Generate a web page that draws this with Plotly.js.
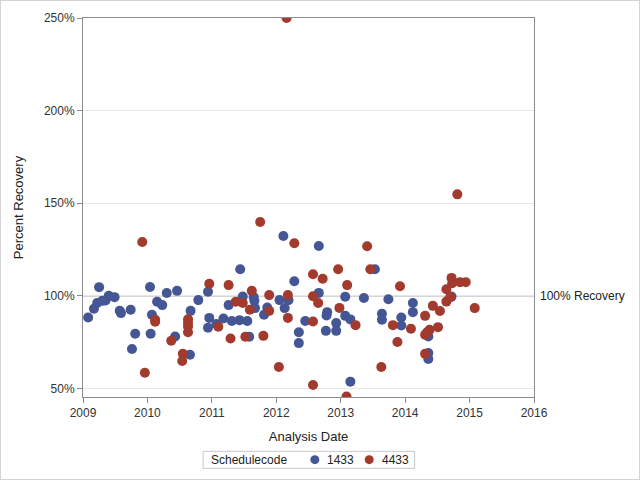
<!DOCTYPE html>
<html><head><meta charset="utf-8">
<script src="https://cdn.plot.ly/plotly-3.0.1.min.js"></script>
<style>body{margin:0;padding:0;background:#fff}#wrap{position:relative;width:640px;height:480px}#chart{width:640px;height:480px}#frame{position:absolute;left:0;top:0;width:638px;height:478px;border:1px solid #d4d4d4;pointer-events:none}</style>
</head><body><div id="wrap"><div id="chart"></div><div id="frame"></div></div>
<script>
// Schedulecode 1433 (blue)
const date1433 = [2009.08,2009.17,2009.22,2009.25,2009.30,2009.35,2009.40,2009.49,2009.57,2009.59,2009.74,2009.81,2009.76,2010.04,2010.07,2010.05,2010.15,2010.23,2010.30,2010.46,2010.43,2010.66,2010.67,2010.79,2010.94,2010.96,2010.94,2011.07,2011.18,2011.26,2011.44,2011.48,2011.31,2011.43,2011.55,2011.58,2011.65,2011.66,2011.67,2011.86,2011.81,2012.05,2012.19,2012.13,2012.11,2012.28,2012.45,2012.35,2012.35,2012.66,2012.66,2012.79,2012.78,2012.77,2012.93,2012.93,2013.07,2013.07,2013.15,2013.15,2013.53,2013.36,2013.74,2013.64,2013.64,2013.94,2013.94,2014.12,2014.12,2014.36,2014.36,2014.36,2014.72];
const pct1433 = [88.3,93.0,96.1,104.7,97.3,97.5,100.0,99.3,91.9,90.7,92.5,79.5,71.3,104.8,89.8,79.5,96.8,95.0,101.5,102.7,78.1,68.2,91.9,97.7,102.2,88.1,82.8,84.8,87.8,95.0,114.4,99.6,86.4,86.9,86.4,77.9,99.3,97.3,93.4,93.7,89.8,97.7,97.7,93.4,132.3,107.9,86.4,80.4,74.5,126.9,101.6,91.2,89.4,81.1,85.3,81.1,99.5,89.2,87.3,53.7,114.4,98.8,98.2,90.3,87.1,88.3,84.0,96.1,91.2,78.1,69.1,65.9,99.6];
// Schedulecode 4433 (red)
const date4433 = [2009.92,2009.96,2010.12,2010.12,2010.37,2010.55,2010.54,2010.63,2010.63,2010.63,2010.63,2010.96,2011.10,2011.26,2011.29,2011.37,2011.48,2011.62,2011.59,2011.52,2011.80,2011.89,2011.89,2011.75,2012.18,2012.18,2012.04,2012.28,2012.57,2012.57,2012.72,2012.65,2012.57,2012.57,2012.96,2012.98,2013.10,2013.09,2013.41,2013.46,2013.92,2013.23,2013.81,2013.88,2014.09,2014.31,2014.43,2014.54,2014.51,2014.38,2014.34,2014.31,2014.31,2014.64,2014.72,2014.73,2014.85,2014.94,2014.64,2014.70,2015.08,2013.63,2014.81,2012.16];
const pct4433 = [129.1,58.5,87.1,86.0,75.8,68.7,64.8,87.4,85.3,83.5,80.4,106.5,83.3,105.8,77.0,96.8,96.1,102.7,92.5,77.9,78.4,100.4,91.9,139.9,100.4,88.1,61.6,128.4,111.7,99.8,109.2,96.1,86.2,51.9,114.4,93.5,105.8,45.7,126.8,114.4,105.2,84.2,84.2,75.1,82.2,89.2,94.6,91.8,83.1,81.7,80.4,79.0,68.7,103.6,109.7,106.8,107.4,107.4,96.9,99.3,93.4,61.6,154.8,250.0];
const seriesNames = ['1433','4433'];
const seriesColors = ['#445694','#A23A2E'];
const legendTitle = 'Schedulecode';
const yearTicks = [2009,2010,2011,2012,2013,2014,2015,2016];
const pctTicks = [50,100,150,200,250];
const pctTickText = ['50%','100%','150%','200%','250%'];
const refValue = 100;
const refLabel = '100% Recovery';

const ff = 'Liberation Sans, Arial, sans-serif';
const traces = [
  {type:'scatter', mode:'markers', name:seriesNames[0], x:date1433, y:pct1433,
   marker:{color:seriesColors[0], size:10, line:{width:0}}, cliponaxis:true},
  {type:'scatter', mode:'markers', name:seriesNames[1], x:date4433, y:pct4433,
   marker:{color:seriesColors[1], size:10, line:{width:0}}, cliponaxis:true}
];

// legend (drawn as paper-referenced annotations/shapes below the plot)
const legY = -0.1653;
const legendShapes = [
  {type:'rect', xref:'paper', yref:'paper', x0:0.2663, x1:0.7353, y0:-0.1882, y1:-0.1434,
   line:{color:'#c8c8c8', width:1}, fillcolor:'rgba(0,0,0,0)'},
  {type:'circle', xref:'paper', yref:'paper', xsizemode:'pixel', ysizemode:'pixel',
   xanchor:0.5141, yanchor:legY, x0:-4.5, x1:4.5, y0:-4.5, y1:4.5,
   fillcolor:seriesColors[0], line:{width:0}},
  {type:'circle', xref:'paper', yref:'paper', xsizemode:'pixel', ysizemode:'pixel',
   xanchor:0.6346, yanchor:legY, x0:-4.5, x1:4.5, y0:-4.5, y1:4.5,
   fillcolor:seriesColors[1], line:{width:0}}
];
const legendAnn = [
  {xref:'paper', yref:'paper', x:0.2790, y:legY, xanchor:'left', yanchor:'middle', showarrow:false,
   text:legendTitle, font:{family:ff,size:12,color:'#222'}},
  {xref:'paper', yref:'paper', x:0.5370, y:legY, xanchor:'left', yanchor:'middle', showarrow:false,
   text:seriesNames[0], font:{family:ff,size:12,color:'#222'}},
  {xref:'paper', yref:'paper', x:0.6590, y:legY, xanchor:'left', yanchor:'middle', showarrow:false,
   text:seriesNames[1], font:{family:ff,size:12,color:'#222'}}
];

const layout = {
  width:640, height:480,
  margin:{l:83, r:106, t:18, b:83, pad:0},
  paper_bgcolor:'#fff', plot_bgcolor:'#fff',
  font:{family:ff, size:12, color:'#333'},
  showlegend:false,
  xaxis:{range:[2009,2016], tickvals:yearTicks, ticktext:yearTicks.map(String),
    showgrid:false, zeroline:false, showline:true, linecolor:'#8c8c8c', linewidth:1, mirror:true,
    ticks:'outside', ticklen:5, tickcolor:'#8c8c8c',
    tickfont:{family:ff,size:12,color:'#333'},
    title:{text:'Analysis Date', font:{family:ff,size:13,color:'#222'}, standoff:12}},
  yaxis:{range:[45.4,250], tickvals:pctTicks, ticktext:pctTickText,
    showgrid:true, gridcolor:'#e6e6e6', zeroline:false, showline:true, linecolor:'#8c8c8c', linewidth:1, mirror:true,
    ticks:'outside', ticklen:5, tickcolor:'#8c8c8c',
    tickfont:{family:ff,size:12,color:'#333'},
    title:{text:'Percent Recovery', font:{family:ff,size:13,color:'#222'}, standoff:17}},
  shapes:[{type:'line', xref:'paper', x0:0, x1:1, yref:'y', y0:refValue, y1:refValue,
    line:{color:'#8c8c8c', width:1}, layer:'below'}].concat(legendShapes),
  annotations:[{xref:'paper', x:1, xanchor:'left', xshift:4, yref:'y', y:refValue, yanchor:'middle',
    text:refLabel, showarrow:false, font:{family:ff,size:12,color:'#222'}}].concat(legendAnn)
};
Plotly.newPlot('chart', traces, layout, {displayModeBar:false, staticPlot:true});
</script></body></html>
